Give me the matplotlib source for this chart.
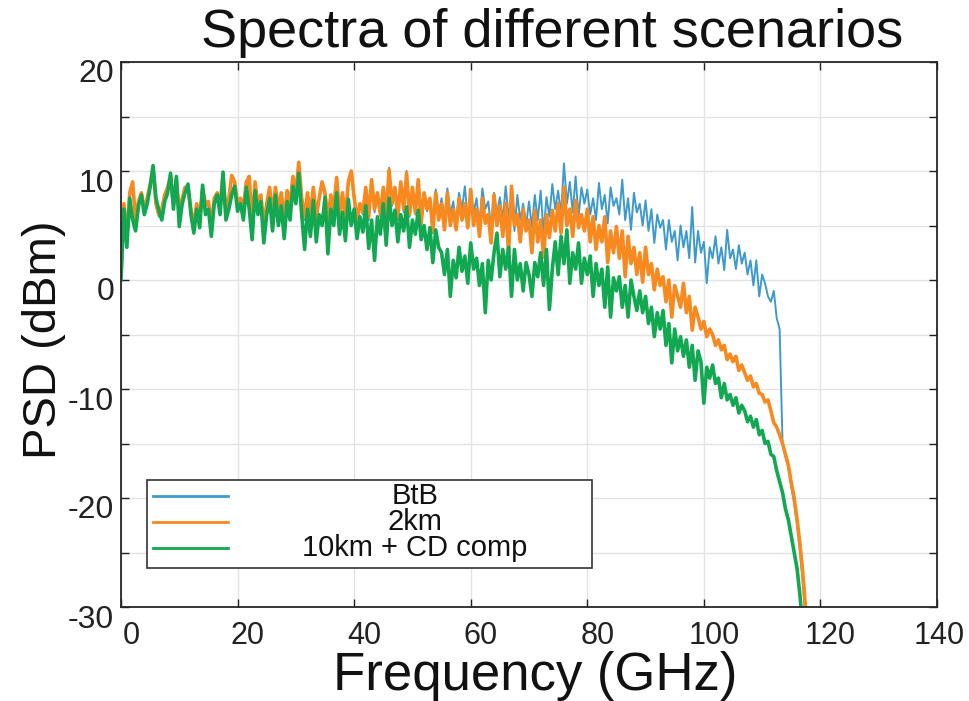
import numpy as np
import matplotlib
matplotlib.use("Agg")
import matplotlib.pyplot as plt
import matplotlib.transforms as mtransforms
from matplotlib.patches import Rectangle
from matplotlib.lines import Line2D

plt.rcParams['font.family'] = ['Liberation Sans', 'DejaVu Sans']

# ---------------- data (PSD in dBm, sampled every 0.5 GHz from 0 GHz) ----------------
freq_step_ghz = 0.5

psd_btb = [
    0.3, 6.8, 3.8, 7.6, 8.6, 5.2, 7.0, 7.8, 6.2, 7.2,
    8.5, 10.0, 6.8, 5.8, 6.2, 7.5, 8.3, 9.2, 6.8, 9.0,
    5.8, 7.2, 8.2, 8.3, 6.2, 4.8, 6.8, 5.2, 8.2, 6.8,
    7.0, 4.8, 7.2, 7.8, 6.5, 9.3, 6.0, 7.2, 8.0, 8.8,
    6.8, 7.3, 6.2, 8.8, 7.0, 4.8, 8.8, 6.5, 7.5, 4.8,
    6.8, 8.2, 5.8, 8.3, 6.2, 7.8, 5.2, 8.0, 6.8, 9.2,
    7.8, 10.5, 7.2, 5.5, 7.8, 5.8, 8.3, 5.5, 7.3, 8.8,
    7.8, 5.2, 7.5, 6.2, 9.2, 5.8, 7.8, 5.2, 8.8, 9.8,
    7.4, 5.2, 6.8, 6.0, 8.3, 5.5, 9.0, 6.2, 7.8, 5.8,
    8.3, 5.8, 10.3, 6.8, 8.3, 5.5, 8.8, 6.2, 10.0, 5.8,
    8.3, 6.0, 9.0, 5.0, 7.8, 6.3, 7.3, 4.3, 8.3, 6.0,
    7.5, 5.5, 8.4, 6.0, 7.2, 5.2, 8.0, 6.5, 8.6, 5.5,
    8.0, 6.2, 7.5, 5.0, 8.4, 6.5, 7.2, 4.8, 8.0, 6.0,
    7.6, 5.5, 8.6, 5.8, 7.5, 4.5, 7.8, 5.5, 7.0, 5.0,
    7.2, 4.8, 7.8, 5.5, 8.2, 4.3, 7.6, 5.8, 8.8, 6.5,
    8.2, 6.0, 10.7, 7.0, 9.0, 6.2, 9.5, 5.8, 8.5, 7.0,
    8.3, 6.0, 7.5, 5.5, 8.9, 6.5, 7.8, 5.2, 8.5, 6.8,
    7.5, 6.0, 9.2, 5.5, 7.5, 4.6, 8.0, 6.2, 7.0, 5.0,
    7.3, 4.5, 6.5, 3.4, 6.0, 4.8, 5.5, 2.8, 5.5, 3.5,
    4.5, 1.8, 5.0, 3.0, 4.5, 2.0, 6.7, 1.6, 4.5, 2.5,
    3.5, -0.3, 3.0, 2.0, 4.0, 1.5, 3.0, 0.9, 4.6, 2.0,
    2.8, 1.0, 3.2, 1.5, 2.5, 0.5, 1.8, -0.5, 1.8, -1.5,
    0.5, -0.3, -1.5, -2.0, -1.0, -3.5, -4.5, -15.0, -16.2, -17.2,
    -19.0, -20.5, -22.5, -25.0, -28.0, -31.5,
]

psd_2km = [
    0.5, 7.0, 4.0, 8.0, 9.0, 5.5, 7.2, 8.0, 6.5, 7.5,
    8.8, 10.2, 7.0, 6.0, 6.5, 7.8, 8.5, 9.5, 7.0, 9.2,
    6.0, 7.5, 8.5, 8.5, 6.5, 5.0, 7.0, 5.5, 8.4, 7.0,
    7.2, 5.0, 7.5, 8.0, 6.8, 9.5, 6.2, 7.5, 9.6, 9.0,
    7.0, 7.5, 6.5, 9.0, 9.5, 5.0, 9.0, 6.8, 7.8, 5.0,
    7.0, 8.5, 6.0, 8.5, 6.5, 8.0, 5.5, 8.2, 7.0, 9.5,
    8.0, 10.8, 7.5, 5.8, 8.0, 6.0, 8.5, 5.8, 7.5, 9.0,
    8.0, 5.5, 7.8, 6.5, 9.4, 6.0, 8.0, 5.5, 9.0, 10.0,
    7.6, 5.5, 7.0, 6.2, 8.5, 5.8, 9.2, 6.5, 8.0, 6.0,
    8.5, 6.0, 10.1, 7.0, 8.5, 5.8, 9.0, 6.5, 9.8, 6.0,
    8.5, 6.2, 9.2, 5.2, 8.0, 6.5, 7.5, 4.5, 8.0, 5.5,
    7.0, 4.6, 8.0, 5.0, 6.5, 4.6, 7.5, 5.5, 7.0, 4.8,
    8.3, 5.0, 6.5, 4.0, 7.5, 5.2, 6.0, 3.4, 7.8, 5.0,
    6.8, 4.0, 7.0, 2.4, 8.6, 5.0, 6.0, 3.5, 6.5, 4.5,
    5.5, 2.5, 6.4, 3.5, 5.5, 2.1, 6.0, 3.9, 6.4, 4.5,
    7.0, 4.3, 8.5, 5.0, 6.5, 4.0, 7.3, 4.8, 6.0, 4.5,
    6.5, 3.5, 5.8, 2.8, 5.0, 3.5, 5.8, 1.6, 4.5, 2.5,
    4.9, 2.0, 4.5, 0.3, 4.0, 1.5, 3.0, 0.5, 2.5, -0.2,
    3.0, 0.5, 1.5, -0.9, 1.0, -0.5, 0.3, -2.0, 0.0, -3.4,
    -0.5, -1.5, -2.5, -0.3, -3.0, -1.5, -4.6, -2.5, -3.4, -4.5,
    -3.8, -5.2, -4.5, -5.0, -6.0, -5.5, -6.4, -6.0, -7.3, -6.8,
    -7.5, -7.0, -8.3, -7.8, -8.5, -9.2, -8.8, -9.8, -9.5, -10.4,
    -10.5, -11.2, -11.0, -12.0, -13.1, -13.5, -14.2, -15.0, -16.0, -17.0,
    -18.6, -20.0, -22.0, -24.3, -27.0, -30.5,
]

psd_10km_cd = [
    0.0, 6.5, 3.0, 7.5, 5.5, 4.5, 6.8, 7.8, 6.0, 7.0,
    8.5, 10.5, 7.5, 6.4, 5.5, 7.2, 8.0, 9.8, 6.5, 9.5,
    4.9, 7.0, 8.0, 8.8, 6.0, 4.3, 6.5, 4.8, 8.7, 6.0,
    6.5, 4.0, 7.0, 7.8, 6.0, 9.9, 5.5, 6.5, 7.8, 8.6,
    6.3, 7.0, 5.5, 8.5, 6.5, 3.7, 8.2, 6.0, 7.2, 3.4,
    6.0, 7.5, 4.5, 7.8, 5.0, 6.8, 3.8, 7.2, 5.5, 8.6,
    7.0, 9.8, 6.0, 2.8, 6.5, 4.0, 7.3, 3.5, 6.0, 5.0,
    7.6, 2.4, 6.5, 5.0, 8.0, 4.2, 6.2, 3.6, 7.4, 5.0,
    6.5, 3.8, 5.8, 4.4, 6.8, 2.9, 5.5, 1.8, 5.8, 4.2,
    7.0, 3.2, 7.5, 5.0, 6.4, 3.5, 6.0, 4.5, 6.7, 3.0,
    5.5, 4.2, 6.4, 3.7, 5.0, 2.8, 4.8, 1.6, 4.6, 3.0,
    2.5, 0.5, 2.8, -1.5, 1.8, 0.2, 3.0, 0.8, 2.2, -0.3,
    3.4, 1.0, 2.0, -0.5, 1.5, -3.0, 1.8, 0.0, 2.5, 4.3,
    0.3, 2.8, 1.0, 3.0, -1.5, 2.8, 0.0, 1.5, -1.0, 1.6,
    0.5, -1.5, 1.6, 0.3, 2.5, -0.5, 2.8, -2.7, 1.0, 3.5,
    0.5, 4.0, 1.5, 4.6, -0.3, 2.5, 1.0, 3.4, -0.3, 2.0,
    0.5, 2.2, -1.5, 1.5, -0.5, 1.0, -2.5, 1.2, -3.4, 0.2,
    -1.0, 0.3, -2.5, -0.5, -3.4, 0.0, -1.5, -2.8, -1.0, -3.0,
    -1.5, -4.0, -2.5, -5.2, -3.0, -4.5, -2.8, -6.0, -4.0, -7.6,
    -4.5, -6.5, -5.2, -7.0, -5.5, -8.0, -6.0, -9.2, -6.5, -7.5,
    -11.3, -8.0, -9.0, -7.8, -9.5, -9.0, -10.8, -9.5, -11.0, -10.5,
    -11.5, -10.8, -12.2, -11.5, -12.0, -13.0, -12.5, -13.5, -12.8, -14.2,
    -13.8, -15.0, -14.8, -16.0, -16.2, -17.5, -18.5, -19.5, -21.0, -22.0,
    -23.5, -25.0, -26.5, -29.0, -32.0, -36.0,
]

series_labels = ["BtB", "2km", "10km + CD comp"]
x_ticks = [0, 20, 40, 60, 80, 100, 120, 140]
y_ticks = [-30, -25, -20, -15, -10, -5, 0, 5, 10, 15, 20]
y_tick_labels = ["-30", "", "-20", "", "-10", "", "0", "", "10", "", "20"]

# ---------------- figure ----------------
W, H = 970, 701
fig = plt.figure(figsize=(W / 100, H / 100), dpi=100)
ax = fig.add_axes([121 / W, 1 - 607 / H, 816 / W, 545 / H])

colors = ["#3d9acb", "#f7891f", "#12a851"]
widths = [1.4, 2.6, 2.6]
series = [psd_btb, psd_2km, psd_10km_cd]
handles = []
for vals, c, lw, lab in zip(series, colors, widths, series_labels):
    f = np.arange(len(vals)) * freq_step_ghz
    h, = ax.plot(f, vals, color=c, lw=lw, label=lab, solid_joinstyle='round')
    handles.append(h)

ax.set_xlim(0, 140)
ax.set_ylim(-30, 20)
ax.set_xticks(x_ticks)
ax.set_xticklabels([str(t) for t in x_ticks])
ax.set_yticks(y_ticks)
ax.set_yticklabels(y_tick_labels)
ax.grid(True, color="#e3e3e3", lw=1.0)
ax.set_axisbelow(True)
ax.tick_params(direction='in', length=6, width=1.0, top=True, right=True,
               colors="#222222")
ax.tick_params(axis='x', labelsize=22, pad=10)
ax.tick_params(axis='y', labelsize=23, pad=5)
for s in ax.spines.values():
    s.set_color("#262626")
    s.set_linewidth(1.3)

# tick label offsets as in the reference
dy = mtransforms.ScaledTranslation(0, -9 / 100, fig.dpi_scale_trans)
for lbl in ax.get_yticklabels():
    lbl.set_transform(lbl.get_transform() + dy)
xlbls = ax.get_xticklabels()
for i, lbl in enumerate(xlbls):
    shift = 10 if i < len(xlbls) - 1 else 2
    lbl.set_transform(lbl.get_transform() +
                      mtransforms.ScaledTranslation(shift / 100, 0, fig.dpi_scale_trans))

fig.text(552 / W, 1 - 33 / H, "Spectra of different scenarios", ha='center', va='center',
         fontsize=39, color="#111111")
ax.set_xlabel("Frequency (GHz)", fontsize=38, color="#111111", va='center')
ax.xaxis.set_label_coords(0.507, -0.126)
ax.set_ylabel("PSD (dBm)", fontsize=34, color="#111111", va='center', ha='center')
ax.yaxis.set_label_coords(-0.094, 0.49)

# legend box (centred entries, MATLAB style)
lx0, ly0, lw_, lh_ = 0.032, 0.072, 0.545, 0.161
ax.add_patch(Rectangle((lx0, ly0), lw_, lh_, transform=ax.transAxes, facecolor='white',
                       edgecolor='#333333', lw=1.2, zorder=5))
rows_y = [0.204, 0.156, 0.108]
for h, yy in zip(handles, rows_y):
    ln = Line2D([0.039, 0.131], [yy, yy], transform=ax.transAxes, color=h.get_color(),
                lw=2.0, zorder=6)
    ax.add_line(ln)
    ax.text(0.36, yy, h.get_label(), transform=ax.transAxes, ha='center', va='center',
            fontsize=21, color="#111111", zorder=6)

fig.savefig("out.png", dpi=100)
